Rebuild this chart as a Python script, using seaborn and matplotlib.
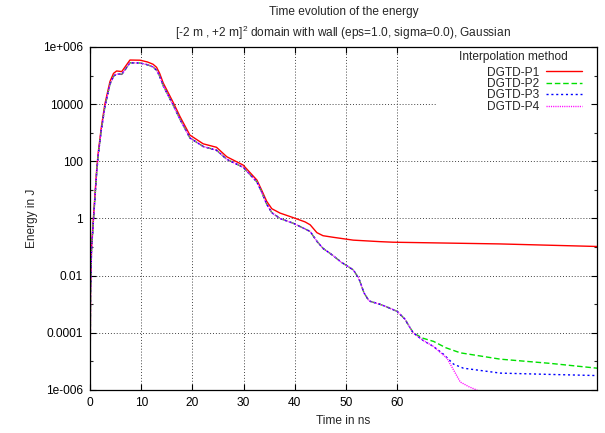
import matplotlib
matplotlib.use("Agg")
import matplotlib.pyplot as plt
import matplotlib.ticker as mticker
import seaborn as sns
import pandas as pd

# ---------------- data ----------------
t_early = [0.0, 0.1, 0.3, 0.7, 1.3, 1.6, 2.2, 2.9, 3.9, 4.6, 5.2, 6.2, 7.0, 7.8, 9.8,
           11.2, 12.3, 13.0, 13.6, 14.3, 16.3, 17.6, 19.5, 22.1, 24.7, 26.7, 29.9, 32.6, 33.5,
           34.5, 35.5, 37.1, 39.7, 42.0, 43.0, 44.3, 45.5, 47.5]

p1_t = t_early + [51.4, 56.6, 59.2, 80.0, 99.0]
p1_e = [1e-7, 3e-3, 0.1, 1.3, 50, 200, 1500, 1.0e4, 6.2e4, 1.2e5, 1.45e5, 1.38e5,
        2.2e5, 3.5e5, 3.45e5, 3.0e5, 2.5e5, 1.95e5, 1.2e5, 5.5e4, 1.1e4, 3.6e3, 830,
        410, 310, 145, 74, 22, 10, 4.0, 2.2, 1.55, 1.07, 0.76, 0.60, 0.32, 0.25, 0.22,
        0.175, 0.155, 0.148, 0.129, 0.105]

common_t = t_early + [49.0, 51.4, 52.5, 53.5, 54.5, 56.6, 58.0, 60.0, 61.5, 63.1]
common_e = [1e-7, 2.4e-3, 0.08, 1.0, 40, 160, 1200, 8000, 5.0e4, 9.5e4, 1.15e5, 1.1e5,
            1.75e5, 2.8e5, 2.75e5, 2.4e5, 2.0e5, 1.55e5, 9.5e4, 4.4e4, 8.8e3, 2.9e3, 660,
            330, 245, 118, 62, 19, 8.5, 3.2, 1.6, 1.0, 0.68, 0.43, 0.35, 0.16, 0.09, 0.05,
            0.03, 0.016, 0.008, 0.0025, 0.0013, 1.0e-3, 8e-4, 5.6e-4, 3e-4, 1e-4]

p2_t = common_t + [65.0, 67.1, 69.5, 72.3, 80.1, 90.0, 99.0]
p2_e = common_e + [6.5e-5, 5.0e-5, 3.0e-5, 2.0e-5, 1.2e-5, 8.5e-6, 5.8e-6]

p3_t = common_t + [65.0, 67.1, 69.0, 71.0, 72.9, 80.1, 90.0, 99.0]
p3_e = common_e + [5.5e-5, 3.3e-5, 1.8e-5, 8e-6, 5.8e-6, 3.9e-6, 3.5e-6, 3.2e-6]

p4_t = common_t + [65.0, 67.1, 69.7, 71.0, 72.3, 74.0, 75.5, 77.0]
p4_e = common_e + [5.5e-5, 3.3e-5, 1.3e-5, 5e-6, 1.9e-6, 1.3e-6, 1.0e-6, 6e-7]

series_names = ["DGTD-P1", "DGTD-P2", "DGTD-P3", "DGTD-P4"]
series_colors = ["#ff0000", "#00e000", "#0000ff", "#ff00ff"]

x_ticks = [0, 10, 20, 30, 40, 50, 60]
y_ticks = [1e-6, 1e-4, 1e-2, 1, 1e2, 1e4, 1e6]
y_tick_labels = ["1e-006", "0.0001", "0.01", "1", "100", "10000", "1e+006"]
y_minor = [1e-5, 1e-3, 1e-1, 1e1, 1e3, 1e5]

# ---------------- build table ----------------
frames = []
for name, tt, ee in zip(series_names, [p1_t, p2_t, p3_t, p4_t], [p1_e, p2_e, p3_e, p4_e]):
    frames.append(pd.DataFrame({"time": tt, "energy": ee, "method": name}))
df = pd.concat(frames, ignore_index=True)

sns.set_theme(style="ticks")
plt.rcParams["font.family"] = ["Liberation Sans", "DejaVu Sans"]
plt.rcParams["mathtext.fontset"] = "custom"
plt.rcParams["mathtext.rm"] = "Liberation Sans"
plt.rcParams["mathtext.it"] = "Liberation Sans"

FS = 8.6
W, H = 605, 433
fig = plt.figure(figsize=(W / 100, H / 100), dpi=100)
L, R, T, B = 90, 597, 47, 390
ax = fig.add_axes([L / W, 1 - B / H, (R - L) / W, (B - T) / H])

dash_map = {"DGTD-P1": "", "DGTD-P2": (4, 2), "DGTD-P3": (1.5, 2), "DGTD-P4": (0.8, 0.8)}
sns.lineplot(data=df, x="time", y="energy", hue="method", style="method",
             palette=dict(zip(series_names, series_colors)), dashes=dash_map,
             estimator=None, sort=False, linewidth=1.0, legend=False, ax=ax)

ax.set_yscale("log")
ax.set_xlim(0, 99)
ax.set_ylim(1e-6, 1e6)

ax.xaxis.set_major_locator(mticker.FixedLocator(x_ticks))
ax.xaxis.set_major_formatter(mticker.FixedFormatter([str(v) for v in x_ticks]))
ax.xaxis.set_minor_locator(mticker.NullLocator())
ax.yaxis.set_major_locator(mticker.FixedLocator(y_ticks))
ax.yaxis.set_major_formatter(mticker.FixedFormatter(y_tick_labels))
ax.yaxis.set_minor_locator(mticker.FixedLocator(y_minor))
ax.yaxis.set_minor_formatter(mticker.NullFormatter())

ax.tick_params(axis="both", which="major", direction="in", length=4, width=0.8,
               top=True, right=True, labelsize=FS, colors="black", pad=5)
ax.tick_params(axis="both", which="minor", direction="in", length=2.5, width=0.8,
               top=True, right=True)
ax.set_xlabel("")
ax.set_ylabel("")
for s in ax.spines.values():
    s.set_color("black")
    s.set_linewidth(0.9)
    s.set_visible(True)

# grid (gnuplot-like dotted)
grid_kw = dict(color="#444444", linestyle=(0, (1, 2)), linewidth=0.7, zorder=0.5)
for xv in x_ticks[1:]:
    ax.axvline(xv, **grid_kw)
for yv in y_ticks[1:-1]:
    if yv == 1e4:
        ax.axhline(yv, xmax=(436 - L) / (R - L), **grid_kw)
    else:
        ax.axhline(yv, **grid_kw)

# titles and labels
fig.text((L + R) / 2 / W, 1 - 12 / H, "Time evolution of the energy",
         ha="center", va="center", fontsize=FS)
fig.text((L + R) / 2 / W, 1 - 33 / H,
         r"[-2 m , +2 m]$^{2}$ domain with wall (eps=1.0, sigma=0.0), Gaussian",
         ha="center", va="center", fontsize=FS)
fig.text(32 / W, 1 - 218.5 / H, "Energy in J", rotation=90,
         ha="center", va="center", fontsize=FS)
fig.text((L + R) / 2 / W, 1 - 421 / H, "Time in ns",
         ha="center", va="center", fontsize=FS)

# legend
handles = ax.get_lines()[:4]
leg = ax.legend(handles, series_names, loc="upper right",
                bbox_to_anchor=(582 / W, 1 - 66.5 / H), bbox_transform=fig.transFigure,
                frameon=False, fontsize=FS, markerfirst=False, handlelength=3.0,
                handletextpad=0.6, labelspacing=-0.05, borderpad=0, borderaxespad=0)
fig.text(513 / W, 1 - 57.3 / H, "Interpolation method", ha="center", va="center",
         fontsize=FS)

fig.savefig("out.png", dpi=100)
